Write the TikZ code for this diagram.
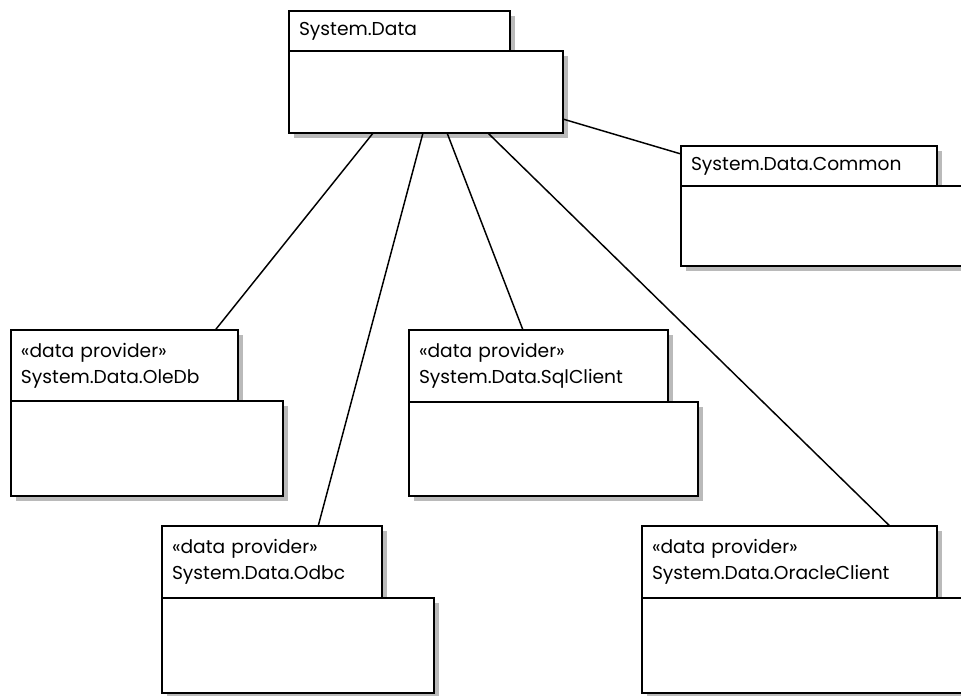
\documentclass[tikz,border=0pt]{standalone}
\usepackage{fontspec}
\setmainfont{Poppins}
\usepackage{tikz}
\usetikzlibrary{shadows,calc}

\begin{document}
\begin{tikzpicture}[
  x=0.75pt, y=-0.75pt,
  pkgTab/.style={draw=black, line width=1.4pt, fill=white, rectangle, anchor=north west, outer sep=0pt, inner xsep=7.5pt, inner ysep=0pt, align=left, font=\fontsize{14}{19.5}\selectfont,
    drop shadow={shadow xshift=3.8pt, shadow yshift=-3.8pt, fill=black!27, opacity=1}},
  pkgBody/.style={draw=black, line width=1.4pt, fill=white, rectangle, anchor=north west, outer sep=0pt, inner sep=0pt,
    drop shadow={shadow xshift=3.8pt, shadow yshift=-3.8pt, fill=black!27, opacity=1}},
  link/.style={draw=black, line width=1.1pt},
]

\clip (0,0) rectangle (961,696);
\fill[white] (0,0) rectangle (961,696);

% packages: name / left / top / tab width / tab height / body width / body height / label
\foreach \nm/\x/\y/\tw/\th/\bw/\bh/\txt in {
  data/289/11/221/40/274/82/{System.Data},
  common/681/146/256/40/320/80/{System.Data.Common},
  oledb/11/330/227/71/272/95/{«data provider»\\System.Data.OleDb},
  sql/409/330/259/72/289/94/{«data provider»\\System.Data.SqlClient},
  odbc/162/526/220/72/272/95/{«data provider»\\System.Data.Odbc},
  oracle/642/526/295/72/340/95/{«data provider»\\System.Data.OracleClient}} {
  \pgfmathsetmacro{\tabW}{\tw*0.75}
  \pgfmathsetmacro{\txtW}{\tw*0.75-15}
  \pgfmathsetmacro{\tabH}{\th*0.75}
  \pgfmathsetmacro{\bodyW}{\bw*0.75}
  \pgfmathsetmacro{\bodyH}{\bh*0.75}
  \node[pkgTab, minimum width=\tabW pt, minimum height=\tabH pt, text width=\txtW pt] (\nm-tab) at (\x,\y) {\txt};
  \node[pkgBody, minimum width=\bodyW pt, minimum height=\bodyH pt] (\nm-body) at (\nm-tab.south west) {};
}

% dependencies from System.Data
\draw[link] ($(data-body.south west)!0.307!(data-body.south east)$) -- ($(oledb-tab.north west)!0.90!(oledb-tab.north east)$);
\draw[link] ($(data-body.south west)!0.489!(data-body.south east)$) -- ($(odbc-tab.north west)!0.71!(odbc-tab.north east)$);
\draw[link] ($(data-body.south west)!0.577!(data-body.south east)$) -- ($(sql-tab.north west)!0.44!(sql-tab.north east)$);
\draw[link] ($(data-body.south west)!0.726!(data-body.south east)$) -- ($(oracle-tab.north west)!0.84!(oracle-tab.north east)$);
\draw[link] ($(data-body.north east)!0.83!(data-body.south east)$) -- ($(common-tab.north west)!0.2!(common-tab.south west)$);

\end{tikzpicture}
\end{document}
